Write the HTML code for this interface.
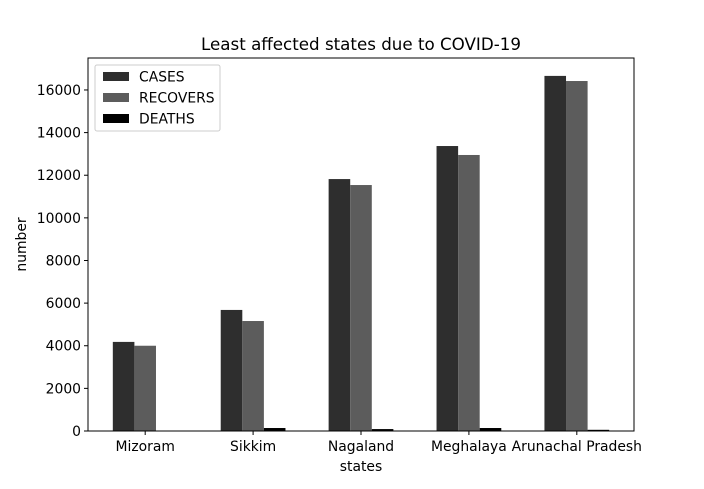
<!DOCTYPE html>
<html><head><meta charset="utf-8"><style>
body{margin:0;background:#fff;}
svg text{font-family:"DejaVu Sans","Liberation Sans",sans-serif;fill:#000;}
</style></head><body>
<svg id="chart" width="704" height="484" xmlns="http://www.w3.org/2000/svg">
<rect width="704" height="484" fill="#fff"/>
<text x="361" y="50" font-size="16.7" text-anchor="middle">Least affected states due to COVID-19</text>
<g id="bars"></g>
<rect x="88" y="58" width="546" height="373" fill="none" stroke="#000" stroke-width="1"/>
<g id="axes"></g>
<text x="361" y="471" font-size="13.9" text-anchor="middle">states</text>
<text x="26" y="244.5" font-size="13.9" text-anchor="middle" transform="rotate(-90 26 244.5)">number</text>
<g>
<rect x="95" y="65" width="125" height="66" fill="#fff" stroke="#ccc" rx="2"/>
<rect x="103" y="72" width="26" height="9" fill="#2e2e2e"/>
<text x="139" y="81.5" font-size="13.9">CASES</text>
<rect x="103" y="93" width="26" height="9" fill="#5c5c5c"/>
<text x="139" y="102.5" font-size="13.9">RECOVERS</text>
<rect x="103" y="114" width="26" height="9" fill="#000"/>
<text x="139" y="123.5" font-size="13.9">DEATHS</text>
</g>
</svg>
<script>
const categories=["Mizoram","Sikkim","Nagaland","Meghalaya","Arunachal Pradesh"];
const cases=[4180,5680,11820,13370,16660];
const recovers=[4000,5160,11540,12950,16420];
const deaths=[12,140,90,140,56];
const yTicks=[0,2000,4000,6000,8000,10000,12000,14000,16000];
const NS="http://www.w3.org/2000/svg";
const L=88,R=634,T=58,B=431,YMAX=17500;
const xs=i=>L+(i+0.53)/5.06*(R-L);
const ys=v=>B-v/YMAX*(B-T);
const bw=0.2/5.06*(R-L);
const bars=document.getElementById('bars'),axes=document.getElementById('axes');
function mk(tag,at,p){const e=document.createElementNS(NS,tag);for(const k in at)e.setAttribute(k,at[k]);p.appendChild(e);return e;}
const series=[[cases,'#2e2e2e','cases'],[recovers,'#5c5c5c','recovers'],[deaths,'#000','deaths']];
series.forEach(([vals,col,nm],s)=>{vals.forEach((v,i)=>{
const r=mk('rect',{x:xs(i)+(s-1.5)*bw,y:ys(v),width:bw,height:B-ys(v),fill:col},bars);


});});
categories.forEach((c,i)=>{
const t=mk('line',{x1:xs(i),x2:xs(i),y1:B,y2:B+4,stroke:'#000'},axes);


const l=mk('text',{x:xs(i),y:B+20,'font-size':13.9,'text-anchor':'middle'},axes);l.textContent=c;


});
yTicks.forEach(v=>{
const t=mk('line',{x1:L-4,x2:L,y1:ys(v),y2:ys(v),stroke:'#000'},axes);


const l=mk('text',{x:L-7,y:ys(v)+5,'font-size':13.9,'text-anchor':'end'},axes);l.textContent=v;


});
</script>
</body></html>
